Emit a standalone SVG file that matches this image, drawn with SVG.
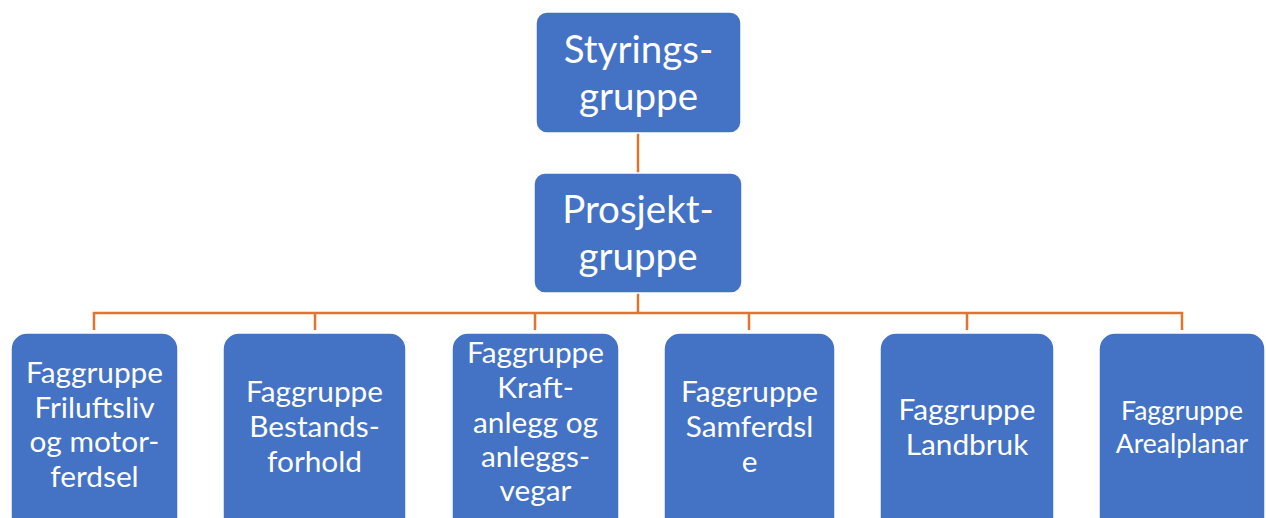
<svg xmlns="http://www.w3.org/2000/svg" width="1266" height="518" viewBox="0 0 1266 518">
<style>
.box{fill:#4472C4;stroke:#ffffff;stroke-width:1.5}
.t{fill:#ffffff;font-family:Lato,"Open Sans",sans-serif;text-anchor:middle}
.big{font-size:38.5px}
.mid{font-size:29.8px}
.sm{font-size:26.5px}
.c{stroke:#E2742E;stroke-width:2.5;fill:none}
</style>
<rect width="1266" height="518" fill="#ffffff"/>
<g id="connectors">
<path class="c" d="M638,133V173"/>
<path class="c" d="M638,293V313"/>
<path class="c" d="M94,330V313H1182V330"/>
<path class="c" d="M315,313V330M535,313V330M749,313V330M967,313V330"/>
</g>
<g id="styringsgruppe">
<rect class="box" x="536" y="12" width="205" height="121" rx="11"/>
<text class="t big" x="638.5" y="63">Styrings-</text>
<text class="t big" x="638.5" y="110">gruppe</text>
</g>
<g id="prosjektgruppe">
<rect class="box" x="534" y="173" width="208" height="120" rx="11"/>
<text class="t big" x="638" y="223">Prosjekt-</text>
<text class="t big" x="638" y="270">gruppe</text>
</g>
<g id="friluftsliv">
<rect class="box" x="11" y="333" width="167" height="200" rx="16"/>
<text class="t mid" x="94.5" y="383">Faggruppe</text>
<text class="t mid" x="94.5" y="418">Friluftsliv</text>
<text class="t mid" x="94.5" y="452">og motor-</text>
<text class="t mid" x="94.5" y="487">ferdsel</text>
</g>
<g id="bestandsforhold">
<rect class="box" x="223" y="333" width="183" height="200" rx="16"/>
<text class="t mid" x="314.5" y="402">Faggruppe</text>
<text class="t mid" x="314.5" y="437">Bestands-</text>
<text class="t mid" x="314.5" y="472">forhold</text>
</g>
<g id="kraftanlegg">
<rect class="box" x="452" y="333" width="167" height="200" rx="16"/>
<text class="t mid" x="535.5" y="363">Faggruppe</text>
<text class="t mid" x="535.5" y="398">Kraft-</text>
<text class="t mid" x="535.5" y="433">anlegg og</text>
<text class="t mid" x="535.5" y="467">anleggs-</text>
<text class="t mid" x="535.5" y="501">vegar</text>
</g>
<g id="samferdsle">
<rect class="box" x="664" y="333" width="171" height="200" rx="16"/>
<text class="t mid" x="749.5" y="402">Faggruppe</text>
<text class="t mid" x="749.5" y="437">Samferdsl</text>
<text class="t mid" x="749.5" y="472">e</text>
</g>
<g id="landbruk">
<rect class="box" x="880" y="333" width="174" height="200" rx="16"/>
<text class="t mid" x="967" y="420">Faggruppe</text>
<text class="t mid" x="967" y="455">Landbruk</text>
</g>
<g id="arealplanar">
<rect class="box" x="1099" y="333" width="166" height="200" rx="16"/>
<text class="t sm" x="1182" y="420">Faggruppe</text>
<text class="t sm" x="1182" y="453">Arealplanar</text>
</g>
</svg>
